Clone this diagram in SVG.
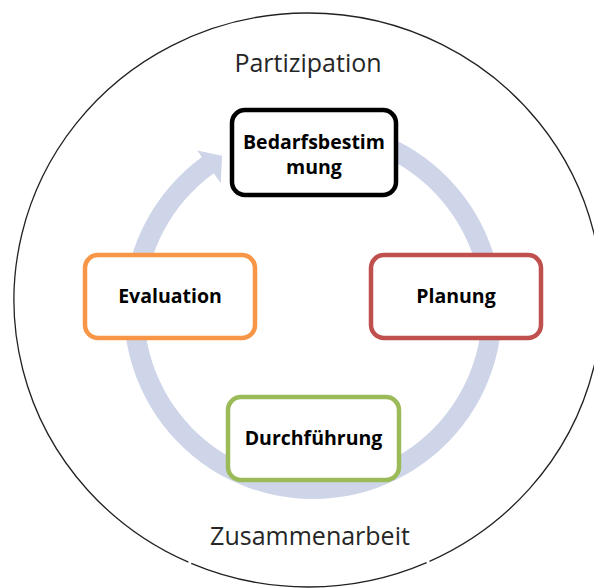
<svg xmlns="http://www.w3.org/2000/svg" width="594" height="588" viewBox="0 0 594 588">
<style>
.outline{fill:none;stroke:#222;stroke-width:1.3}
.lbl{font-family:"Open Sans","Liberation Sans",sans-serif;font-size:25px;fill:#262626;text-anchor:middle}
.box{fill:#fff;stroke-width:4.5}
.bt{font-family:"Open Sans","Liberation Sans",sans-serif;font-size:19.5px;font-weight:bold;fill:#000;text-anchor:middle}
.cyc{fill:#CED5E9}
</style>
<rect width="594" height="588" fill="#fff"/>
<g id="outer">
<path class="outline" d="M429.51,561.34 A294 287 0 1 0 188.42,562.19"/>
<path class="outline" d="M191.24,563.39 A294 287 0 0 0 426.64,562.59"/>
<text class="lbl" x="308" y="72">Partizipation</text>
<text class="lbl" x="310" y="545">Zusammenarbeit</text>
</g>
<g id="connectors">
<path class="cyc" d="M345.8,123.9 A189 189 0 1 1 201.9,157.1 L197.2,150.6 L222.1,155.8 L220.7,183.0 L213.7,173.3 A169 169 0 1 0 342.3,143.6 Z"/>
</g>
<g id="bedarfsbestimmung">
<rect class="box" x="232" y="110" width="164" height="85" rx="13" stroke="#000"/>
<text class="bt" x="314" y="149">Bedarfsbestim</text>
<text class="bt" x="314" y="174">mung</text>
</g>
<g id="planung">
<rect class="box" x="371" y="255" width="170" height="83" rx="13" stroke="#C0504D"/>
<text class="bt" x="456" y="303">Planung</text>
</g>
<g id="durchfuehrung">
<rect class="box" x="228" y="397" width="171" height="83" rx="13" stroke="#9BBB59"/>
<text class="bt" x="313.5" y="445">Durchführung</text>
</g>
<g id="evaluation">
<rect class="box" x="85" y="255" width="170" height="83" rx="13" stroke="#F79646"/>
<text class="bt" x="170" y="303">Evaluation</text>
</g>
</svg>
